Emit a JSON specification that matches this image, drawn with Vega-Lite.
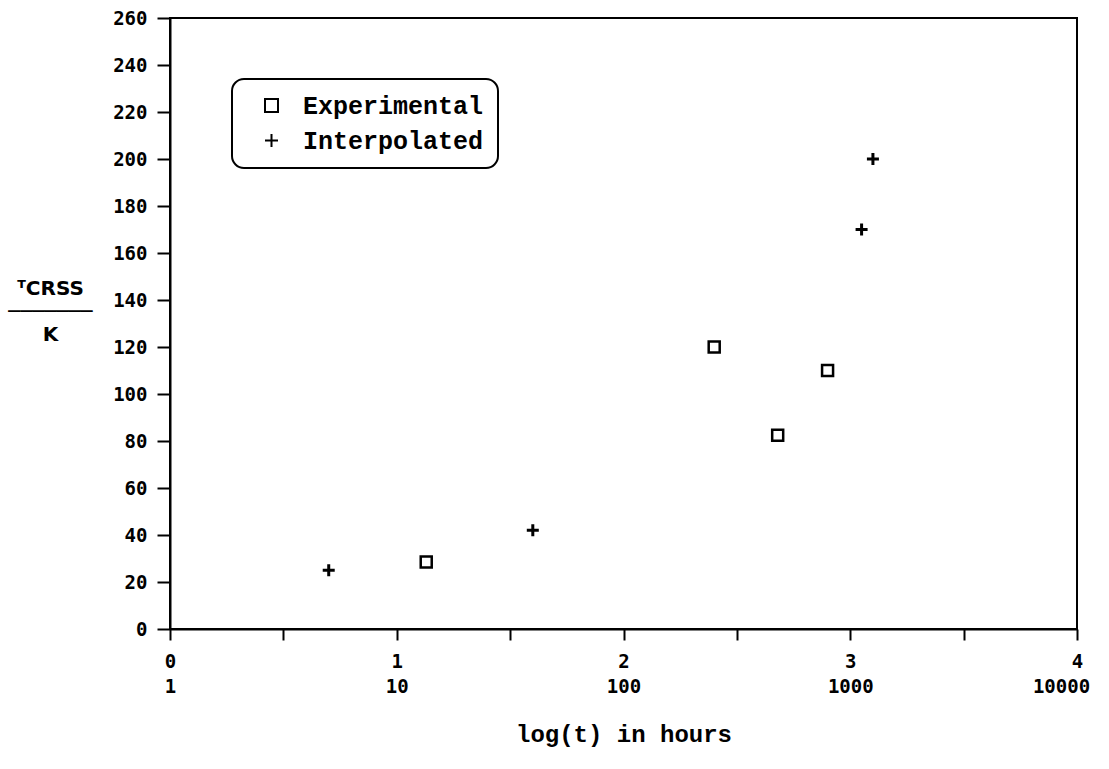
{
  "$schema": "https://vega.github.io/schema/vega-lite/v6.json",
  "width": 907,
  "height": 611,
  "autosize": "none",
  "padding": {"left": 170, "top": 18, "right": 32, "bottom": 140},
  "background": "white",
  "config": {
    "view": {"stroke": "black", "strokeWidth": 2},
    "axis": {
      "grid": false,
      "domainColor": "black",
      "domainWidth": 2,
      "tickColor": "black",
      "tickWidth": 2,
      "labelColor": "black",
      "labelFont": "DejaVu Sans Mono",
      "labelFontWeight": "bold",
      "labelFontSize": 19,
      "labelFlush": false,
      "labelOverlap": false,
      "titleColor": "black"
    },
    "legend": {
      "orient": "none",
      "legendX": 62,
      "legendY": 61,
      "padding": 14,
      "cornerRadius": 12,
      "strokeColor": "black",
      "strokeWidth": 2,
      "fillColor": "white",
      "symbolOffset": 13,
      "symbolSize": 169,
      "symbolStrokeColor": "black",
      "symbolStrokeWidth": 2,
      "symbolFillColor": "transparent",
      "labelOffset": 19,
      "labelFont": "Liberation Mono",
      "labelFontWeight": "bold",
      "labelFontSize": 25,
      "labelColor": "black",
      "labelLimit": 400,
      "rowPadding": 9
    }
  },
  "data": {
    "values": [
      {"logt": 1.13, "tcrss": 28.5, "series": "Experimental"},
      {"logt": 2.40, "tcrss": 120, "series": "Experimental"},
      {"logt": 2.68, "tcrss": 82.5, "series": "Experimental"},
      {"logt": 2.90, "tcrss": 110, "series": "Experimental"},
      {"logt": 0.70, "tcrss": 25, "series": "Interpolated"},
      {"logt": 1.60, "tcrss": 42, "series": "Interpolated"},
      {"logt": 3.05, "tcrss": 170, "series": "Interpolated"},
      {"logt": 3.10, "tcrss": 200, "series": "Interpolated"}
    ]
  },
  "layer": [
    {
      "transform": [{"filter": "datum.series == 'Experimental'"}],
      "mark": {"type": "point", "filled": false, "color": "black", "opacity": 1, "strokeWidth": 2.5, "size": 121},
      "encoding": {
        "x": {
          "field": "logt",
          "type": "quantitative",
          "scale": {"domain": [0, 4], "nice": false, "zero": false},
          "axis": {
            "orient": "bottom",
            "values": [0, 0.5, 1, 1.5, 2, 2.5, 3, 3.5, 4],
            "labelExpr": "datum.value % 1 == 0 ? format(datum.value, 'd') : ''",
            "tickSize": 11,
            "labelPadding": 12,
            "title": null
          }
        },
        "y": {
          "field": "tcrss",
          "type": "quantitative",
          "scale": {"domain": [0, 260], "nice": false},
          "axis": {
            "values": [0, 20, 40, 60, 80, 100, 120, 140, 160, 180, 200, 220, 240, 260],
            "tickSize": 13,
            "labelPadding": 10,
            "title": ["ᵀCRSS", "───────", "K"],
            "titleFont": "DejaVu Sans",
            "titleFontWeight": "bold",
            "titleFontSize": 20,
            "titleLineHeight": 23,
            "titleAngle": 0,
            "titleAlign": "center",
            "titleBaseline": "middle",
            "titleX": -120,
            "titleY": 270
          }
        },
        "shape": {
          "field": "series",
          "type": "nominal",
          "scale": {"domain": ["Experimental", "Interpolated"], "range": ["square", "M-1,0H1M0,-1V1"]},
          "legend": {"title": null}
        }
      }
    },
    {
      "transform": [{"filter": "datum.series == 'Interpolated'"}],
      "mark": {"type": "point", "filled": false, "color": "black", "opacity": 1, "strokeWidth": 3, "size": 144},
      "encoding": {
        "x": {
          "field": "logt",
          "type": "quantitative",
          "axis": {
            "orient": "bottom",
            "offset": 40,
            "values": [0, 1, 2, 3, 4],
            "labelExpr": "format(pow(10, datum.value), 'd')",
            "domain": false,
            "ticks": false,
            "labelPadding": 8,
            "labelOffset": {"condition": {"test": "datum.value == 4", "value": -16}, "value": 0},
            "title": "log(t) in hours",
            "titleFont": "Liberation Mono",
            "titleFontWeight": "bold",
            "titleFontSize": 24,
            "titlePadding": 26
          }
        },
        "y": {"field": "tcrss", "type": "quantitative"},
        "shape": {"field": "series", "type": "nominal"}
      }
    }
  ],
  "resolve": {"axis": {"x": "independent"}}
}
